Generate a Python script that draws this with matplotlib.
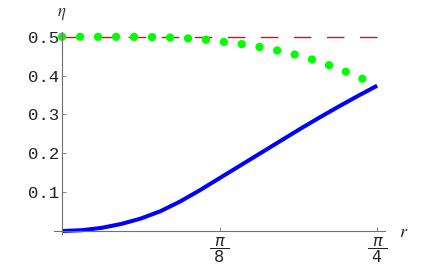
import numpy as np
import matplotlib
matplotlib.use("Agg")
import matplotlib.pyplot as plt

plt.rcParams['mathtext.fontset'] = 'stix'

# r sampled every pi/64 up to pi/4
r_vals = np.arange(17) * np.pi / 64

# blue solid curve
eta_blue = [0.0, 0.002, 0.008, 0.018, 0.032, 0.051, 0.076, 0.105, 0.136,
            0.167, 0.198, 0.229, 0.260, 0.290, 0.319, 0.347, 0.374]
# green dotted curve
eta_green = [0.5, 0.5, 0.5, 0.4998, 0.4995, 0.499, 0.497, 0.494, 0.488,
             0.482, 0.474, 0.464, 0.452, 0.437, 0.419, 0.397, 0.377]
# red dashed reference level
eta_red = [0.5, 0.5]
r_red = [0.0, np.pi / 4]

y_ticks = [0.1, 0.2, 0.3, 0.4, 0.5]
y_labels = ['0.1', '0.2', '0.3', '0.4', '0.5']
x_ticks = [np.pi / 8, np.pi / 4]
x_labels = [r'$\dfrac{\pi}{\;8\;}$', r'$\dfrac{\pi}{\;4\;}$']

fig = plt.figure(figsize=(4.37, 2.70), dpi=100)
ax = fig.add_axes([54 / 437, 0.133, 331 / 437, 0.7467])

ax.plot(r_red, eta_red, color='#ff0000', lw=1.0,
        linestyle=(0, (12.6, 11.2)))
ax.plot(r_vals, eta_green, color='#00ff00', lw=6.0,
        linestyle=(0, (0.01, 2.15)), dash_capstyle='round')
ax.plot(r_vals, eta_blue, color='#0000ff', lw=2.9, solid_capstyle='butt')

ax.set_xlim(-0.02, 0.805)
ax.set_ylim(-0.008, 0.511)

for side in ['top', 'right']:
    ax.spines[side].set_visible(False)
ax.spines['left'].set_position(('data', 0))
ax.spines['bottom'].set_position(('data', 0))
for side in ['left', 'bottom']:
    ax.spines[side].set_color('#707070')
    ax.spines[side].set_linewidth(0.8)

ax.set_yticks(y_ticks)
ax.set_yticklabels(y_labels, family='Liberation Mono', fontsize=12.5,
                   color='#222222')
ax.set_xticks(x_ticks)
ax.set_xticklabels(x_labels, fontsize=11.5, color='#222222',
                   math_fontfamily='dejavusans')
ax.tick_params(axis='both', direction='in', length=3, width=0.6,
               color='#707070')
ax.tick_params(axis='y', pad=2)
ax.tick_params(axis='x', pad=3)

ax.text(0, 0.561, r'$\eta$', ha='center', va='center', fontsize=12,
        color='#333333', clip_on=False)
ax.text(0.851, -0.003, r'$r$', ha='center', va='center', fontsize=13,
        color='#222222', clip_on=False)

fig.savefig('out.png', dpi=100)
